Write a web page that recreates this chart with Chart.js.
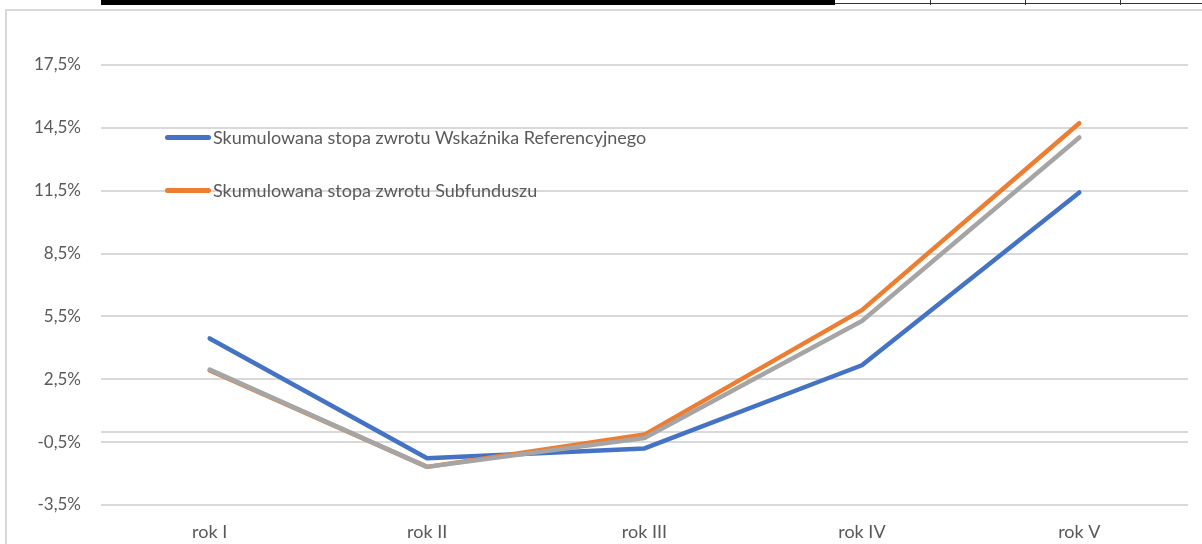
<!DOCTYPE html>
<html>
<head>
<meta charset="utf-8">
<script src="https://cdn.jsdelivr.net/npm/chart.js@4.4.0/dist/chart.umd.min.js"></script>
<style>
  html, body { margin: 0; padding: 0; background: #fff; overflow: hidden; }
  #wrap { position: relative; width: 1202px; height: 544px; font-family: Lato, 'Open Sans', sans-serif; }
  #frame { position: absolute; left: 5px; top: 9px; width: 1300px; height: 700px; border: 2px solid #d9d9d9; box-sizing: border-box; }
  .tbl { position: absolute; background: #000; }
  #chartBox { position: absolute; left: 0; top: 0; width: 1202px; height: 544px; }
  .lg { position: absolute; left: 165px; height: 20px; display: flex; align-items: center; color: #595959; font-size: 18px; white-space: nowrap; }
  .lg i { display: inline-block; width: 46px; height: 5px; border-radius: 3px; margin-right: 2px; }
</style>
</head>
<body>
<div id="wrap">
  <!-- table remains above the chart -->
  <div class="tbl" style="left:101px;top:0;width:734px;height:5px"></div>
  <div class="tbl" style="left:835px;top:3px;width:367px;height:1px;background:#333"></div>
  <div class="tbl" style="left:930px;top:0;width:1px;height:5px;background:#333"></div>
  <div class="tbl" style="left:1025px;top:0;width:1px;height:5px;background:#333"></div>
  <div class="tbl" style="left:1120px;top:0;width:1px;height:5px;background:#333"></div>
  <div id="frame"></div>
  <div id="chartBox"><canvas id="returnsChart" width="1202" height="544"></canvas></div>
  <div class="lg" style="top:127px"><i style="background:#4472C4"></i><span>Skumulowana stopa zwrotu Wskaźnika Referencyjnego</span></div>
  <div class="lg" style="top:180px"><i style="background:#ED7D31"></i><span>Skumulowana stopa zwrotu Subfunduszu</span></div>
</div>
<script>
const years = ['rok I', 'rok II', 'rok III', 'rok IV', 'rok V'];
const benchmark = [4.45, -1.27, -0.8, 3.17, 11.42];
const fund = [2.92, -1.68, -0.14, 5.8, 14.72];
const third = [2.96, -1.68, -0.3, 5.28, 14.04];
const yTicks = [-3.5, -0.5, 2.5, 5.5, 8.5, 11.5, 14.5, 17.5];

const fmt = v => v.toFixed(1).replace('.', ',') + '%';
const line = (label, data, color, order) => ({
  label, data, order,
  borderColor: color, backgroundColor: color,
  borderWidth: 4.5, pointRadius: 0, tension: 0,
  borderCapStyle: 'round', borderJoinStyle: 'round'
});

new Chart(document.getElementById('returnsChart'), {
  type: 'line',
  data: {
    labels: years,
    datasets: [
      line('Skumulowana stopa zwrotu Wskaźnika Referencyjnego', benchmark, '#4472C4', 2),
      line('Skumulowana stopa zwrotu Subfunduszu', fund, '#ED7D31', 1),
      line('', third, '#A5A5A5', 0)
    ]
  },
  options: {
    responsive: false,
    animation: false,
    layout: { padding: { top: 65, right: 14, left: 0, bottom: 0 } },
    plugins: { legend: { display: false }, tooltip: { enabled: false } },
    scales: {
      x: {
        offset: true,
        grid: { display: false },
        border: { display: false },
        ticks: { color: '#595959', font: { family: 'Lato', size: 18 }, padding: 8, maxRotation: 0 },
        afterFit: s => { s.height = 39; }
      },
      y: {
        min: -3.5, max: 17.5,
        afterBuildTicks: s => {
          s.ticks = yTicks.map(v => ({ value: v })).concat([{ value: 0 }]).sort((a, b) => a.value - b.value);
        },
        grid: { color: '#d9d9d9', lineWidth: 2, drawTicks: false },
        border: { display: false },
        ticks: { color: '#595959', font: { family: 'Lato', size: 17 }, padding: 20,
                 callback: v => v === 0 ? '' : fmt(v) },
        afterFit: s => { s.width = 101; }
      }
    }
  }
});
</script>
</body>
</html>
